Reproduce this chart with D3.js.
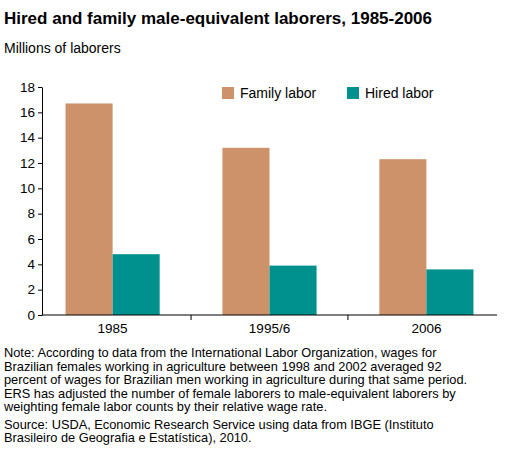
<!DOCTYPE html>
<html><head><meta charset="utf-8">
<script src="https://cdn.jsdelivr.net/npm/d3@7"></script>
<style>body{margin:0;background:#fff;font-family:"Liberation Sans",Arial,sans-serif}</style>
</head><body><svg id="c" width="519" height="450"></svg>
<script>
const categories=["1985","1995/6","2006"];
const familyLabor=[16.7,13.2,12.3];
const hiredLabor=[4.8,3.9,3.6];
const yTicks=[0,2,4,6,8,10,12,14,16,18];
const seriesNames=["Family labor","Hired labor"];
const colors=["#CE926A","#00918E"];

const svg=d3.select("#c");
svg.append("text").attr("x",4).attr("y",24).attr("font-size",17).attr("font-weight","bold").text("Hired and family male-equivalent laborers, 1985-2006");
svg.append("text").attr("x",4).attr("y",53).attr("font-size",14).text("Millions of laborers");

const y=d3.scaleLinear().domain([0,18]).range([315,87]);
const x=d3.scaleBand().domain(categories).range([42,497]).paddingInner(0.4).paddingOuter(0.15);
const xs=d3.scaleBand().domain(seriesNames).range([0,x.bandwidth()]);

const ya=svg.append("g").attr("transform","translate(42,0)").call(d3.axisLeft(y).tickValues(yTicks).tickSize(4).tickSizeOuter(0));
ya.selectAll("text").attr("font-size",13.5).attr("font-family","Liberation Sans, Arial").attr("fill","#000");
const data=[familyLabor,hiredLabor];
seriesNames.forEach((s,i)=>{
  svg.append("g").selectAll("rect").data(categories).join("rect")
   .attr("x",c=>x(c)+xs(s)).attr("width",xs.bandwidth())
   .attr("y",(c,j)=>y(data[i][j])).attr("height",(c,j)=>y(0)-y(data[i][j]))
   .attr("fill",colors[i]);
});
const xa=svg.append("g").attr("transform","translate(0,315)").call(d3.axisBottom(x).tickSize(0).tickSizeOuter(0));
xa.select(".domain").attr("d","M42,0H497");
xa.selectAll("text").attr("font-size",13.5).attr("font-family","Liberation Sans, Arial").attr("fill","#000").attr("dy","1.1em");
[x(categories[1])-x.step()*x.paddingInner()/2, x(categories[2])-x.step()*x.paddingInner()/2].forEach(v=>{
  xa.append("line").attr("x1",v).attr("x2",v).attr("y1",0).attr("y2",5).attr("stroke","#000");
});
const lg=svg.append("g");
[[222,"Family labor"],[347,"Hired labor"]].forEach(([lx,t],i)=>{
  lg.append("rect").attr("x",lx).attr("y",87).attr("width",12).attr("height",12).attr("fill",colors[i]);
  lg.append("text").attr("x",lx+18).attr("y",98).attr("font-size",14).text(t);
});
const notes=["Note:  According to data from the International Labor Organization, wages for","Brazilian females working in agriculture between 1998 and 2002 averaged 92","percent of wages for Brazilian men working in agriculture during that same period.","ERS has adjusted the number of female laborers to male-equivalent laborers by","weighting female labor counts by their relative wage rate.","Source:  USDA, Economic Research Service using data from IBGE (Instituto","Brasileiro de Geografia e Estatística), 2010."];
notes.forEach((t,i)=>svg.append("text").attr("x",4).attr("y",357+i*13.5+(i>=5?4:0)).attr("font-size",12.8).text(t));
</script></body></html>
